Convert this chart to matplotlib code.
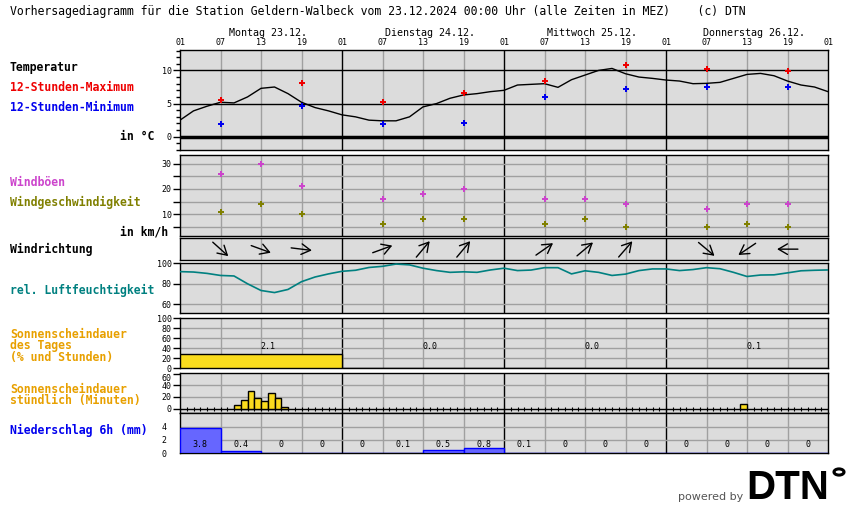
import numpy as np
import matplotlib
matplotlib.use("Agg")
import matplotlib.pyplot as plt
from matplotlib.transforms import offset_copy, blended_transform_factory

plt.rcParams["font.family"] = ["DejaVu Sans Mono"]

# ─── Data (hours counted from Monday 01:00) ──────────────────────────────────
day_names = ["Montag 23.12.", "Dienstag 24.12.", "Mittwoch 25.12.", "Donnerstag 26.12."]
hour_labels = ["01", "07", "13", "19"] * 4 + ["01"]

hours_2h = list(range(0, 97, 2))
temp = [2.5, 3.9, 4.6, 5.2, 5.1, 6.0, 7.3, 7.5, 6.5, 5.2, 4.4, 3.9, 3.3,
        3.0, 2.5, 2.4, 2.4, 3.0, 4.5, 5.0, 5.8, 6.3, 6.5, 6.8, 7.0,
        7.8, 7.9, 8.0, 7.45, 8.6, 9.3, 10.0, 10.3, 9.5, 9.0, 8.8, 8.55,
        8.4, 8.0, 8.05, 8.2, 8.8, 9.4, 9.55, 9.2, 8.4, 7.8, 7.5, 6.8]
rh = [91.7, 91.3, 90.0, 88.0, 87.5, 80.0, 73.5, 71.5, 74.5, 82.0, 86.5, 89.5, 92.0,
      93.0, 95.7, 96.8, 99.0, 98.2, 95.0, 92.7, 91.0, 91.5, 91.0, 93.3, 95.0,
      92.7, 93.2, 95.5, 95.5, 89.5, 92.5, 91.0, 88.0, 89.3, 92.7, 94.3, 94.3,
      92.7, 93.7, 95.5, 94.5, 91.0, 87.0, 88.4, 88.6, 90.5, 92.5, 93.0, 93.3]

ext_hours = [6, 18, 30, 42, 54, 66, 78, 90]
temp_max = [5.6, 8.05, 5.3, 6.6, 8.35, 10.75, 10.15, 9.85]
temp_min = [1.9, 4.6, 1.9, 2.0, 5.95, 7.15, 7.45, 7.45]

wind_hours = [6, 12, 18, 30, 36, 42, 54, 60, 66, 78, 84, 90]
gusts = [26, 30, 21, 16, 18, 20, 16, 16, 14, 12, 14, 14]
speed = [11, 14, 10, 6, 8, 8, 6, 8, 5, 5, 6, 5]
wind_dir = [312, 290, 277, 250, 220, 220, 235, 230, 221, 310, 56, 90]

sun_day_hours = [2.1, 0.0, 0.0, 0.1]
sun_day_pct = [28, 0, 0, 1]
sun_hour_start = [8, 9, 10, 11, 12, 13, 14, 15, 83]
sun_hour_min = [6, 14, 31, 18, 13, 26, 19, 2, 8]

precip_6h = [3.8, 0.4, 0, 0, 0, 0.1, 0.5, 0.8, 0.1, 0, 0, 0, 0, 0, 0, 0]

# ─── Colours ─────────────────────────────────────────────────────────────────
PANEL = "#DCDCDC"
GRIDC = "#A0A0A0"
RED = "#EE0000"
BLUE = "#0000EE"
MAGENTA = "#CC44CC"
OLIVE = "#808000"
TEAL = "#008080"
ORANGE = "#E8A000"
YELLOW = "#FADC1E"

W, H = 850, 524
fig = plt.figure(figsize=(W / 100, H / 100), dpi=100, facecolor="white")


def panel(top, bottom, ylim):
    ax = fig.add_axes([180 / W, 1 - bottom / H, 648 / W, (bottom - top) / H])
    ax.set_facecolor(PANEL)
    ax.set_xlim(0, 96)
    ax.set_ylim(*ylim)
    ax.set_xticks([])
    for s in ax.spines.values():
        s.set_color("black")
        s.set_linewidth(1)
    for h in range(6, 96, 6):
        ax.axvline(h, color="black" if h % 24 == 0 else GRIDC, lw=1, zorder=1)
    ax.tick_params(axis="y", direction="out", length=5, width=1,
                   labelsize=6, pad=1)
    return ax


# ── Temperature ─────────────────────────────────────────────────────────────
ax_t = panel(50, 150, (-2, 13.08))
ax_t.set_yticks([0, 5, 10])
ax_t.set_yticks(range(-2, 14), minor=True)
ax_t.tick_params(axis="y", which="minor", length=3, width=1)
for v in (5, 10):
    ax_t.axhline(v, color="black", lw=1, zorder=1)
ax_t.axhline(0, color="black", lw=2.5, zorder=1)
ax_t.plot(hours_2h, temp, color="black", lw=1, zorder=3)
ax_t.plot(ext_hours, temp_max, "P", color=RED, ms=4.8, mew=0, zorder=4)
ax_t.plot(ext_hours, temp_min, "P", color=BLUE, ms=4.8, mew=0, zorder=4)

ax_t.xaxis.tick_top()
ax_t.set_xticks(range(0, 97, 6))
ax_t.set_xticklabels(hour_labels, fontsize=6)
ax_t.tick_params(axis="x", length=0, pad=2)
trans = blended_transform_factory(ax_t.transData, ax_t.transAxes)
for d, name in enumerate(day_names):
    ax_t.text(d * 24 + 13, 1.17, name, transform=trans, ha="center",
              va="center", fontsize=7.2)

# ── Wind ────────────────────────────────────────────────────────────────────
ax_w = panel(155, 235.7, (1.5, 33.4))
ax_w.set_yticks([10, 20, 30])
ax_w.set_yticks([5, 15, 25], minor=True)
ax_w.tick_params(axis="y", which="minor", length=5, width=1)
for v in range(5, 35, 5):
    ax_w.axhline(v, color=GRIDC, lw=1, zorder=1)
ax_w.plot(wind_hours, gusts, "P", color=MAGENTA, ms=4.8, mew=0, zorder=4)
ax_w.plot(wind_hours, speed, "P", color=OLIVE, ms=4.8, mew=0, zorder=4)

# ── Wind direction ──────────────────────────────────────────────────────────
ax_d = panel(238.3, 260, (0, 1))
ax_d.set_yticks([])
half = 7.5  # points
for h, d in zip(wind_hours, wind_dir):
    u = -np.sin(np.radians(d))
    v = -np.cos(np.radians(d))
    head = offset_copy(ax_d.transData, fig=fig, x=u * half, y=v * half, units="points")
    tail = offset_copy(ax_d.transData, fig=fig, x=-u * half, y=-v * half, units="points")
    ax_d.annotate("", xy=(h, 0.5), xycoords=head, xytext=(h, 0.5), textcoords=tail,
                  arrowprops=dict(arrowstyle="->,head_length=0.65,head_width=0.38",
                                  color="black", lw=1, shrinkA=0, shrinkB=0),
                  zorder=4)

# ── Humidity ────────────────────────────────────────────────────────────────
ax_h = panel(262.7, 313.3, (51.5, 100.3))
ax_h.set_yticks([60, 80, 100])
for v in (60, 80):
    ax_h.axhline(v, color=GRIDC, lw=1, zorder=1)
ax_h.plot(hours_2h, rh, color=TEAL, lw=1.2, zorder=3)

# ── Sunshine per day ────────────────────────────────────────────────────────
ax_s = panel(318.3, 368.3, (0, 100))
ax_s.set_yticks(range(0, 101, 20))
for v in range(20, 100, 20):
    ax_s.axhline(v, color=GRIDC, lw=1, zorder=1)
ax_s.bar(np.arange(4) * 24, sun_day_pct, width=24, align="edge",
         color=YELLOW, edgecolor="black", lw=1, zorder=3)
for d, val in enumerate(sun_day_hours):
    ax_s.text(d * 24 + 13, 43, f"{val:.1f}", ha="center", va="center",
              fontsize=6, zorder=5)

# ── Sunshine per hour ───────────────────────────────────────────────────────
ax_m = panel(373.3, 413.3, (-8, 60.5))
ax_m.set_yticks([0, 20, 40, 60])
ax_m.get_yticklabels()[-1].set_va("top")
for v in (20, 40):
    ax_m.axhline(v, color=GRIDC, lw=1, zorder=1)
ax_m.axhline(0, color="black", lw=1, zorder=2)
ax_m.plot(np.arange(0, 97), np.zeros(97), "|", color="black", ms=3, mew=0.8, zorder=2)
ax_m.bar(sun_hour_start, sun_hour_min, width=1, align="edge",
         color=YELLOW, edgecolor="black", lw=1, zorder=3)

# ── Precipitation ───────────────────────────────────────────────────────────
ax_p = panel(413.3, 453.3, (0, 6))
ax_p.set_yticks([0, 2, 4])
ax_p.tick_params(axis="y", length=0, pad=10)
for v in (2, 4):
    ax_p.axhline(v, color=GRIDC, lw=1, zorder=1)
ax_p.bar(np.arange(16) * 6, precip_6h, width=6, align="edge",
         color="#6666FF", edgecolor="#0000FF", lw=1, zorder=3)
for i, val in enumerate(precip_6h):
    ax_p.text(i * 6 + 3, 1.25, f"{val:.1f}" if val else "0", ha="center",
              va="center", fontsize=6, zorder=5)

# ── Texts ───────────────────────────────────────────────────────────────────
fig.text(10 / W, 1 - 12 / H,
         "Vorhersagediagramm für die Station Geldern-Walbeck vom 23.12.2024 "
         "00:00 Uhr (alle Zeiten in MEZ)    (c) DTN",
         fontsize=8.3, va="center")

labels = [
    (67.3, "Temperatur", "black", "left", 10),
    (87.3, "12-Stunden-Maximum", RED, "left", 10),
    (107.3, "12-Stunden-Minimum", BLUE, "left", 10),
    (136.7, "in °C", "black", "right", 154),
    (182, "Windböen", MAGENTA, "left", 10),
    (202, "Windgeschwindigkeit", OLIVE, "left", 10),
    (231.7, "in km/h", "black", "right", 168),
    (249.7, "Windrichtung", "black", "left", 10),
    (290, "rel. Luftfeuchtigkeit", TEAL, "left", 10),
    (345.5, "Sonnenscheindauer\ndes Tages\n(% und Stunden)", ORANGE, "left", 10),
    (395, "Sonnenscheindauer\nstündlich (Minuten)", ORANGE, "left", 10),
    (430, "Niederschlag 6h (mm)", BLUE, "left", 10),
]
for y, txt, col, ha, x in labels:
    fig.text(x / W, 1 - y / H, txt, color=col, fontsize=8.3, weight="bold",
             ha=ha, va="center", linespacing=0.85)

# ── Logo ────────────────────────────────────────────────────────────────────
fig.text(678 / W, 1 - 497 / H, "powered by", fontsize=8, color="#555555",
         family="DejaVu Sans", va="center")
fig.text(746 / W, 1 - 488 / H, "DTN", fontsize=29, weight="bold", color="black",
         family="Liberation Sans", va="center")
fig.patches.append(plt.Circle((839 / W, 1 - 472 / H), 5 / W, transform=fig.transFigure,
                              fill=False, edgecolor="black", lw=2.2))

fig.savefig("out.png", dpi=100, facecolor="white")
